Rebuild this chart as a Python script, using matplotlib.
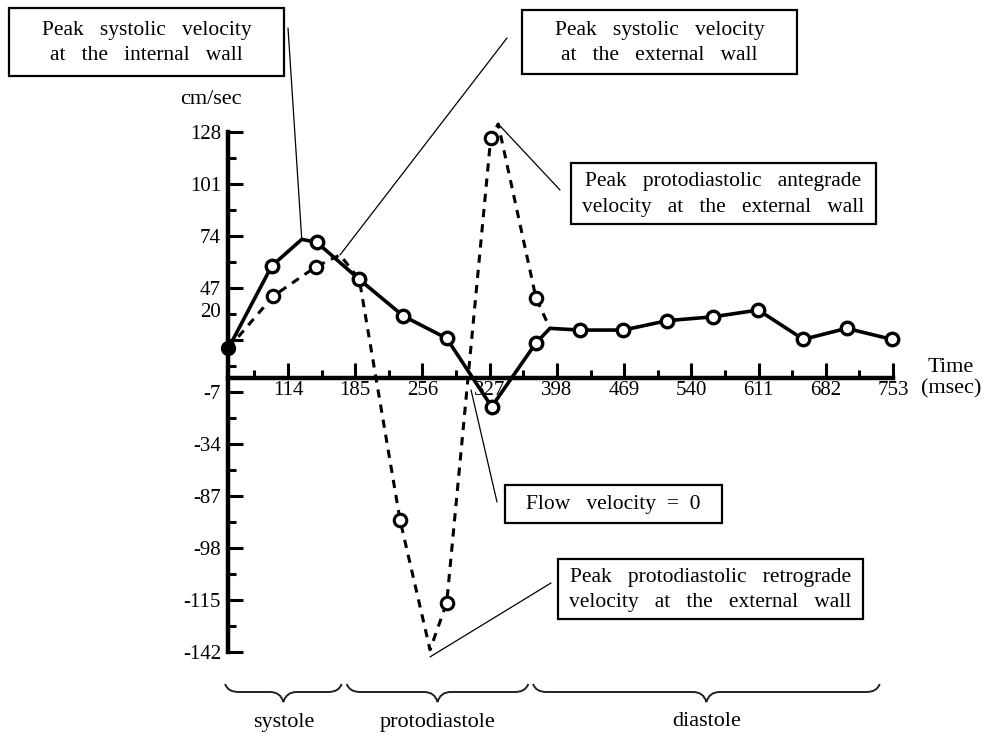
import numpy as np
import matplotlib
matplotlib.use("Agg")
import matplotlib.pyplot as plt
from matplotlib.transforms import Affine2D, blended_transform_factory
from matplotlib.patches import Rectangle, PathPatch
from matplotlib.path import Path

plt.rcParams['font.family'] = ['Liberation Serif', 'DejaVu Serif']

# internal wall (solid line), time in msec, velocity in cm/sec
int_t = [51, 96.8, 128.5, 144.3, 189.3, 235.8, 281.6, 329.1, 376, 390.7, 422.4,
         468.2, 514.6, 563.2, 610.7, 658.3, 704.1, 751.6]
int_v = [15.5, 58.3, 72.1, 70.6, 51.3, 32.3, 20.7, -14.8, 18.4, 25.9, 25.0,
         25.0, 29.9, 31.9, 35.4, 20.2, 25.9, 20.2]
int_marked = [1, 3, 4, 5, 6, 7, 8, 10, 11, 12, 13, 14, 15, 16, 17]

# external wall (dashed line)
ext_t = [51, 98.5, 143.6, 168.9, 189.3, 232.3, 264, 281.6, 328.1, 336, 376, 390.7]
ext_v = [15.5, 42.7, 57.9, 64.0, 51.3, -73.6, -141, -116.6, 124.6, 132, 41.5, 25.9]
ext_marked = [1, 2, 5, 7, 8, 10]

x_ticks = [114, 185, 256, 327, 398, 469, 540, 611, 682, 753]
y_ticks = [128, 101, 74, 47, 20, -7, -34, -61, -88, -115, -142]
y_labels = ['128', '101', '74', '47', '', '-7', '-34', '-87', '-98', '-115', '-142']

phases = ['systole', 'protodiastole', 'diastole']
phase_start = [47.5, 176, 372.8]
phase_end = [170.7, 367.8, 739]

notes = ["Peak   systolic   velocity\nat   the   internal   wall",
         "Peak   systolic   velocity\nat   the   external   wall",
         "Peak   protodiastolic   antegrade\nvelocity   at   the   external   wall",
         "Flow   velocity  =  0",
         "Peak   protodiastolic   retrograde\nvelocity   at   the   external   wall"]
note_target = [(128.5, 72.1), (168.9, 64.0), (336, 132), (307.3, -6.1), (264, -144.7)]

fig = plt.figure(figsize=(9.85, 7.36), dpi=100)
px = Affine2D().scale(1 / 985, -1 / 736).translate(0, 1) + fig.transFigure
ax = fig.add_axes([228 / 985, (736 - 651.7) / 736, 665 / 985, 520 / 736])

ax.plot(ext_t, ext_v, color='black', lw=2.2, linestyle=(0, (2.7, 2.3)),
        marker='o', markevery=ext_marked, ms=9, mfc='white', mec='black',
        mew=2.2, clip_on=False, zorder=3)
ax.plot(int_t, int_v, color='black', lw=2.6, marker='o', markevery=int_marked,
        ms=9, mfc='white', mec='black', mew=2.4, clip_on=False, zorder=4)
ax.plot(int_t[0], int_v[0], 'o', color='black', ms=10, clip_on=False, zorder=5)

ax.set_xlim(50.6, 753)
ax.set_ylim(-142, 128)
for s in ['top', 'right']:
    ax.spines[s].set_visible(False)
ax.spines['bottom'].set_position(('data', 0))
ax.spines['left'].set_linewidth(3.2)
ax.spines['bottom'].set_linewidth(3.2)

ax.set_xticks(x_ticks)
ax.set_xticklabels([str(x) for x in x_ticks])
ax.set_xticks([x - 35.5 for x in x_ticks], minor=True)
ax.set_yticks(y_ticks)
ax.set_yticklabels(y_labels)
ax.set_yticks([y - 13.5 for y in y_ticks[:-1]], minor=True)
ax.tick_params(which='major', direction='in', length=11, width=2.2, labelsize=15)
ax.tick_params(which='minor', direction='in', length=5.5, width=2.2)
ax.tick_params(axis='x', which='major', pad=2)
ax.tick_params(axis='y', which='major', pad=5)
ax.annotate('20', xy=(0, 33.9), xycoords=('axes fraction', 'data'), xytext=(-5, 0),
            textcoords='offset points', ha='right', va='center', fontsize=15)

fig.text(210.7, 99, 'cm/sec', transform=px, ha='center', va='center', fontsize=16)
fig.text(951, 367, 'Time', transform=px, ha='center', va='center', fontsize=16)
fig.text(951, 389, '(msec)', transform=px, ha='center', va='center', fontsize=16)

# annotation boxes with leader lines
boxes = [(9, 8, 284, 76), (522, 10, 797, 74), (571, 163, 876, 224),
         (505, 485, 722, 523), (558, 559, 863, 619)]
line_start = [(288, 28), (507, 38), (560, 190), (497, 502), (551, 583)]
for i in range(len(notes)):
    x0, y0, x1, y1 = boxes[i]
    fig.add_artist(Rectangle((x0, y0), x1 - x0, y1 - y0, transform=px,
                             facecolor='white', edgecolor='black', lw=1.6))
    fig.text((x0 + x1) / 2, (y0 + y1) / 2 + 1, notes[i], transform=px,
             ha='center', va='center', fontsize=15.5, linespacing=1.45)
    ax.annotate('', xy=note_target[i], xycoords='data', xytext=line_start[i],
                textcoords=px, annotation_clip=False,
                arrowprops=dict(arrowstyle='-', lw=0.9, color='black',
                                shrinkA=0, shrinkB=0))

# braces under the time axis
btr = blended_transform_factory(ax.transData, px)
for name, a, b in zip(phases, phase_start, phase_end):
    m = (a + b) / 2
    yl, ye, yt = 692, 684, 702
    verts = [(a, ye), (a + 3, yl), (a + 14, yl), (m - 14, yl), (m - 3, yl), (m, yt),
             (m + 3, yl), (m + 14, yl), (b - 14, yl), (b - 3, yl), (b, ye)]
    codes = [Path.MOVETO, Path.CURVE3, Path.CURVE3, Path.LINETO, Path.CURVE3, Path.CURVE3,
             Path.CURVE3, Path.CURVE3, Path.LINETO, Path.CURVE3, Path.CURVE3]
    ax.add_patch(PathPatch(Path(verts, codes), transform=btr, fill=False,
                           lw=1.4, edgecolor='#222222', clip_on=False))
    ax.text(m, 722, name, transform=btr, ha='center', va='center', fontsize=16)

fig.savefig('out.png', dpi=100)
